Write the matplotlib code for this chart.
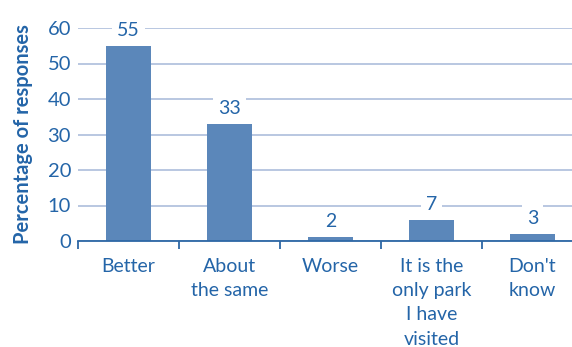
import numpy as np
import matplotlib.pyplot as plt

categories = ["Better", "About\nthe same", "Worse", "It is the\nonly park\nI have\nvisited", "Don't\nknow"]
bar_heights = [55, 33, 1.2, 6, 2]
value_labels = ["55", "33", "2", "7", "3"]
yticks = [0, 10, 20, 30, 40, 50, 60]

bar_col = "#5b87ba"
txt_col = "#2465a8"
grid_col = "#b3c3de"
axis_col = "#2d67a5"

plt.rcParams['font.family'] = ['Lato', 'DejaVu Sans']

fig = plt.figure(figsize=(5.72, 3.47), dpi=100)
ax = fig.add_axes([78/572, 1 - 241/347, 494/572, (241 - 28)/347])

x = np.arange(len(categories))
ax.bar(x, bar_heights, width=0.455, color=bar_col, zorder=2)

for xi, h, lab in zip(x, bar_heights, value_labels):
    ax.annotate(lab, (xi, h), xytext=(0, 11), textcoords="offset points",
                ha="center", va="center", fontsize=14, color=txt_col,
                bbox=dict(boxstyle="square,pad=0.25", fc="white", ec="none"),
                zorder=4, annotation_clip=False)

ax.set_ylim(0, 60)
ax.set_yticks(yticks)
ax.yaxis.grid(True, color=grid_col, lw=1.3, zorder=1)
ax.set_axisbelow(True)

for s in ["top", "right", "left"]:
    ax.spines[s].set_visible(False)
ax.spines["bottom"].set_color(axis_col)
ax.spines["bottom"].set_linewidth(1.3)

ax.tick_params(axis="y", length=0, pad=5, labelsize=14.5, labelcolor=txt_col)
ax.set_xticks(np.arange(-0.5, len(categories), 1.0))
ax.set_xticklabels([])
ax.tick_params(axis="x", length=6, width=1.3, color=axis_col, direction="out")
ax.set_xticks(x, minor=True)
ax.set_xticklabels(categories, minor=True, fontsize=14, color=txt_col, linespacing=1.52)
ax.tick_params(axis="x", which="minor", length=0, pad=12)
ax.set_xlim(-0.5, -0.5 + 494/101)

ax.set_ylabel("Percentage of responses", fontsize=14.5, fontweight="bold", color=txt_col)
ax.yaxis.set_label_coords(-45/494, 0.5)

fig.savefig("out.png", dpi=100)
